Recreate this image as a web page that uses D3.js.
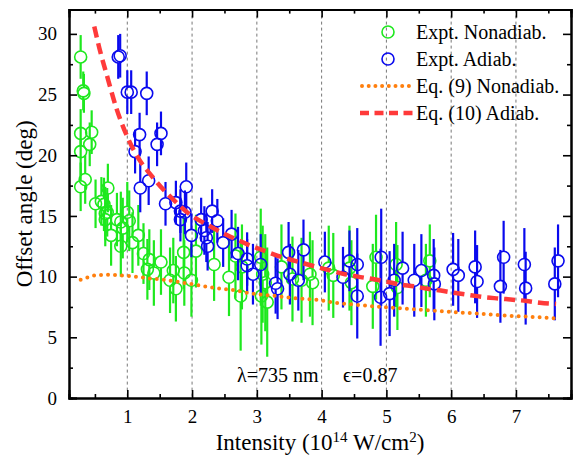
<!DOCTYPE html>
<meta charset="utf-8">
<script src="https://cdn.jsdelivr.net/npm/d3@7"></script>
<style>
body { margin: 0; background: #fff; }
text { font-family: "Liberation Serif", "DejaVu Serif", serif; }
</style>
<div id="chart"></div>
<script>
// experimental points: intensity (1e14 W/cm2), offset angle (deg), error
const nonadiabX = [0.28,0.32,0.33,0.28,0.45,0.42,0.28,0.35,0.28,0.70,0.51,0.60,0.64,0.66,0.66,0.69,0.84,0.90,1.00,1.03,0.93,0.75,0.90,1.08,1.17,1.25,1.34,1.31,1.41,1.52,1.71,1.66,1.75,1.88,1.87,1.99,2.06,2.34,2.57,2.67,2.77,2.75,3.06,3.09,3.07,3.16,3.13,3.38,3.55,3.69,3.82,3.86,4.11,4.18,4.43,4.46,4.84,4.79,5.15,5.17,5.67,5.61];
const nonadiabY = [28.1,25.3,25.1,21.8,21.9,20.9,20.3,18.0,17.4,17.3,16.0,16.2,15.95,15.2,14.7,15.3,14.7,14.5,15.3,14.6,14.0,13.4,12.5,12.8,13.4,11.9,11.4,10.6,10.3,11.2,10.5,9.7,9.0,10.3,12.0,9.7,12.1,11.0,9.95,11.7,10.8,8.4,11.6,10.2,8.4,7.9,9.5,10.8,9.8,9.7,10.2,9.5,10.7,10.1,10.7,9.5,11.6,9.2,11.0,9.1,11.3,9.7];
const nonadiabErr = [1.8,1.6,1.6,2.0,1.8,1.8,2.0,2.0,2.0,2.0,2.0,2.0,2.2,2.2,2.2,2.0,2.2,2.5,2.5,2.5,2.5,2.5,2.5,2.5,2.5,2.5,2.5,2.5,2.7,2.7,2.7,2.7,2.7,2.7,3.0,3.0,3.0,3.0,3.2,3.5,3.5,4.5,4.0,4.0,4.0,4.5,4.0,3.5,3.5,3.5,3.5,3.5,3.5,3.5,3.5,3.5,3.5,3.5,3.5,3.5,3.0,3.0];

const adiabX = [0.86,0.89,1.00,1.06,1.30,1.19,1.52,1.46,1.12,1.33,1.20,1.91,1.59,1.75,1.82,1.89,1.82,1.99,2.14,2.31,2.39,2.19,2.22,2.24,2.61,2.48,2.71,2.85,2.85,2.94,3.06,3.49,3.72,3.51,3.29,3.32,3.64,4.05,4.43,4.55,4.33,4.55,4.92,4.91,5.05,5.25,5.12,5.43,5.54,5.73,5.74,6.03,6.11,6.37,6.40,6.81,6.76,7.13,7.15,7.65,7.60];
const adiabY = [28.1,28.2,25.2,25.2,25.1,21.7,21.8,20.9,20.3,17.9,17.3,17.4,16.0,16.1,15.4,15.3,14.7,13.4,14.7,15.4,14.6,13.8,13.2,12.5,13.5,12.8,11.9,11.45,10.9,10.2,11.0,12.0,12.2,10.2,9.45,9.0,9.7,11.2,11.3,11.0,9.95,8.4,11.6,8.3,8.6,10.7,9.7,9.7,10.5,10.1,9.4,10.6,10.1,10.8,9.6,11.6,9.2,11.0,9.05,11.3,9.4];
const adiabErr = [1.8,1.8,1.8,1.8,1.8,1.8,1.8,1.8,1.8,2.0,2.0,2.0,1.8,1.8,1.8,1.8,1.8,1.8,1.8,1.8,1.8,2.0,2.0,2.0,2.0,2.0,2.2,2.2,2.2,2.5,2.5,2.5,2.5,2.5,2.5,2.5,2.5,2.5,2.5,3.0,2.5,3.5,4.0,4.0,3.5,3.0,3.0,3.0,3.0,3.0,3.0,3.0,3.0,3.0,3.0,3.0,3.0,3.0,3.0,3.0,3.0];

// theory curves
const eq9X = [0.28,0.40,0.50,0.73,0.93,1.13,1.34,1.57,1.80,2.00,2.31,2.62,2.93,3.23,3.54,3.90,4.23,4.66,5.10,5.53,5.73,6.27,6.81,7.32,7.67];
const eq9Y = [9.75,9.95,10.1,10.16,10.08,10.0,9.86,9.73,9.55,9.38,9.1,8.9,8.6,8.44,8.25,8.1,7.84,7.62,7.43,7.27,7.2,7.0,6.8,6.66,6.53];
const eq10X = [0.49,0.57,0.70,0.83,1.01,1.19,1.36,1.57,1.72,1.90,2.06,2.26,2.47,2.67,2.88,3.08,3.28,3.49,3.72,3.92,4.14,4.36,4.56,4.79,4.99,5.20,5.42,5.64,5.84,6.07,6.30,6.52,6.73,6.95,7.16,7.37,7.62];
const eq10Y = [30.6,28.8,26.3,23.9,21.4,19.6,18.4,17.1,16.3,15.4,14.8,14.2,13.6,13.1,12.6,12.2,11.8,11.45,11.1,10.8,10.5,10.2,10.0,9.8,9.6,9.35,9.2,9.0,8.85,8.65,8.47,8.3,8.2,8.1,8.0,7.85,7.75];

const xTicks = [1,2,3,4,5,6,7];
const yTicks = [0,5,10,15,20,25,30];

const green = "#1ee81e", blue = "#0a0aee", orange = "#ff7f0e", red = "#ff3a3a";

const W = 576, H = 460;
const pLeft = 69, pRight = 571, pTop = 9.6, pBottom = 398;

const svg = d3.select("#chart").append("svg")
  .attr("width", W).attr("height", H);

const x = d3.scaleLinear().domain([0.1, 7.85]).range([pLeft, pRight]);
const y = d3.scaleLinear().domain([0, 32]).range([pBottom, pTop]);

// dashed vertical guides
svg.append("g").selectAll("line")
  .data(xTicks).enter().append("line")
  .attr("x1", d => x(d)).attr("x2", d => x(d))
  .attr("y1", pTop).attr("y2", pBottom)
  .attr("stroke", "#777").attr("stroke-width", 1)
  .attr("stroke-dasharray", "3,3");

// data series, error bars stop at the symbol edge
const r = 6;
function drawSeries(xs, ys, es, col) {
  const g = svg.append("g");
  const pts = xs.map((v, i) => ({x: v, y: ys[i], e: es[i]}));
  g.selectAll(".eu").data(pts).enter().append("line")
    .attr("x1", d => x(d.x)).attr("x2", d => x(d.x))
    .attr("y1", d => y(d.y + d.e)).attr("y2", d => y(d.y) - r)
    .attr("stroke", col).attr("stroke-width", 2.2);
  g.selectAll(".ed").data(pts).enter().append("line")
    .attr("x1", d => x(d.x)).attr("x2", d => x(d.x))
    .attr("y1", d => y(d.y) + r).attr("y2", d => y(d.y - d.e))
    .attr("stroke", col).attr("stroke-width", 2.2);
  g.selectAll("circle").data(pts).enter().append("circle")
    .attr("cx", d => x(d.x)).attr("cy", d => y(d.y)).attr("r", r)
    .attr("fill", "none").attr("stroke", col).attr("stroke-width", 1.6);
}
drawSeries(nonadiabX, nonadiabY, nonadiabErr, green);
drawSeries(adiabX, adiabY, adiabErr, blue);

const line = d3.line().x(d => x(d[0])).y(d => y(d[1])).curve(d3.curveMonotoneX);

svg.append("path")
  .attr("d", line(eq9X.map((v, i) => [v, eq9Y[i]])))
  .attr("fill", "none").attr("stroke", orange).attr("stroke-width", 4)
  .attr("stroke-linecap", "round").attr("stroke-dasharray", "0,7");

svg.append("path")
  .attr("d", line(eq10X.map((v, i) => [v, eq10Y[i]])))
  .attr("fill", "none").attr("stroke", red).attr("stroke-width", 4.5)
  .attr("stroke-dasharray", "11,6");

// axes
const fs = "19px";
svg.append("g").attr("transform", `translate(0,${pBottom})`)
  .call(d3.axisBottom(x).tickValues(xTicks).tickSize(-8).tickPadding(12).tickFormat(d3.format("d")));
svg.append("g").attr("transform", `translate(${pLeft},0)`)
  .call(d3.axisLeft(y).tickValues(yTicks).tickSize(-8).tickPadding(12).tickFormat(d3.format("d")));
svg.append("g").attr("transform", `translate(0,${pTop})`)
  .call(d3.axisTop(x).tickValues(xTicks).tickSize(-8).tickFormat(""));
svg.append("g").attr("transform", `translate(${pRight},0)`)
  .call(d3.axisRight(y).tickValues(yTicks).tickSize(-8).tickFormat(""));

// minor ticks
const xMinor = d3.range(0.5, 7.85, 1);
const yMinor = d3.range(2.5, 32, 5);
svg.append("g").attr("transform", `translate(0,${pBottom})`)
  .call(d3.axisBottom(x).tickValues(xMinor).tickSize(-4).tickFormat(""));
svg.append("g").attr("transform", `translate(0,${pTop})`)
  .call(d3.axisTop(x).tickValues(xMinor).tickSize(-4).tickFormat(""));
svg.append("g").attr("transform", `translate(${pLeft},0)`)
  .call(d3.axisLeft(y).tickValues(yMinor).tickSize(-4).tickFormat(""));
svg.append("g").attr("transform", `translate(${pRight},0)`)
  .call(d3.axisRight(y).tickValues(yMinor).tickSize(-4).tickFormat(""));

svg.selectAll(".domain").attr("stroke", "#000").attr("stroke-width", 2);
svg.selectAll(".tick line").attr("stroke", "#000").attr("stroke-width", 1.6);
svg.selectAll(".tick text")
  .style("font-family", "'Liberation Serif', serif").style("font-size", fs).attr("fill", "#000");

// axis titles
svg.append("text")
  .attr("x", (pLeft + pRight) / 2).attr("y", 450)
  .attr("text-anchor", "middle").style("font-size", "23px")
  .html('Intensity (10<tspan dy="-8" font-size="15px">14</tspan><tspan dy="8"> W/cm</tspan><tspan dy="-8" font-size="15px">2</tspan><tspan dy="8">)</tspan>');

svg.append("text")
  .attr("transform", `translate(32,${(pTop + pBottom) / 2}) rotate(-90)`)
  .attr("text-anchor", "middle").style("font-size", "23px")
  .text("Offset angle (deg)");

// annotation
svg.append("text").attr("x", 237).attr("y", 382).style("font-size", "20px").text("λ=735 nm");
svg.append("text").attr("x", 343).attr("y", 382).style("font-size", "20px").text("ϵ=0.87");

// legend
const legItems = [
  {label: "Expt. Nonadiab.", type: "circle", col: green},
  {label: "Expt. Adiab.", type: "circle", col: blue},
  {label: "Eq. (9) Nonadiab.", type: "dot", col: orange},
  {label: "Eq. (10) Adiab.", type: "dash", col: red}
];
const leg = svg.append("g");
legItems.forEach((d, i) => {
  const ly = 32 + i * 27;
  if (d.type === "circle") {
    leg.append("circle").attr("cx", 388).attr("cy", ly).attr("r", r)
      .attr("fill", "none").attr("stroke", d.col).attr("stroke-width", 1.6);
  } else if (d.type === "dot") {
    leg.append("line").attr("x1", 362).attr("x2", 409).attr("y1", ly).attr("y2", ly)
      .attr("stroke", d.col).attr("stroke-width", 4).attr("stroke-linecap", "round")
      .attr("stroke-dasharray", "0,6.7");
  } else {
    leg.append("line").attr("x1", 360).attr("x2", 413).attr("y1", ly).attr("y2", ly)
      .attr("stroke", d.col).attr("stroke-width", 4.5).attr("stroke-dasharray", "9,5.5");
  }
  leg.append("text").attr("x", 416).attr("y", ly + 7).style("font-size", "20px").text(d.label);
});
</script>
